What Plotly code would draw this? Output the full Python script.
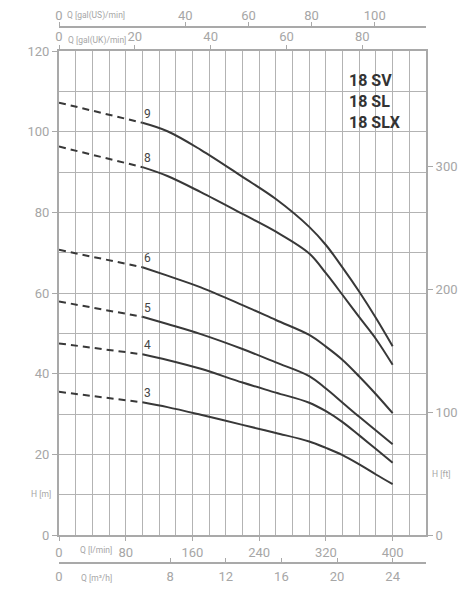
import plotly.graph_objects as go

# ---------------- data ----------------
stages = ["9", "8", "6", "5", "4", "3"]
q_dashed = [0, 100]
h_dashed = {
    "9": [107.2, 102.2],
    "8": [96.3, 91.2],
    "6": [70.7, 66.4],
    "5": [57.9, 54.1],
    "4": [47.5, 44.8],
    "3": [35.5, 32.9],
}
q_solid = [100, 130, 170, 220, 260, 300, 320, 340, 360, 380, 400]
h_solid = {
    "9": [102.2, 100.1, 95.5, 88.8, 83.3, 76.4, 71.9, 66.3, 60.3, 53.8, 46.8],
    "8": [91.2, 89.0, 85.0, 79.6, 75.2, 69.8, 64.9, 59.5, 54.0, 48.6, 42.2],
    "6": [66.4, 64.3, 61.4, 57.0, 53.3, 49.6, 46.7, 43.4, 39.3, 34.9, 30.2],
    "5": [54.1, 52.3, 49.8, 46.1, 42.8, 39.4, 36.3, 32.8, 29.3, 25.9, 22.5],
    "4": [44.8, 43.4, 41.2, 37.8, 35.3, 32.8, 30.7, 28.0, 24.7, 21.3, 17.9],
    "3": [32.9, 31.7, 29.8, 27.3, 25.3, 23.2, 21.6, 19.8, 17.5, 15.0, 12.6],
}
title_lines = ["18 SV", "18 SL", "18 SLX"]

q_lmin_ticks = [0, 80, 160, 240, 320, 400]
q_m3h_ticks = [0, 8, 12, 16, 20, 24]
q_us_ticks = [0, 40, 60, 80, 100]
q_uk_ticks = [0, 20, 40, 60, 80]
h_m_ticks = [0, 20, 40, 60, 80, 100, 120]
h_ft_ticks = [0, 100, 200, 300]

Q_MAX = 440.0
H_MAX = 120.0
US_GAL = 3.785411784
UK_GAL = 4.54609
FT = 3.28084

# ---------------- style ----------------
GRID = "#b3b3b3"
AXC = "#a9a9a9"
TXT = "#a6a6a6"
CURVE = "#383838"
FONT = "Roboto, Liberation Sans, sans-serif"
NARROW = "Liberation Sans Narrow, Roboto, sans-serif"

# page body has an 8px default margin: work in screen pixels, convert below
OFF = 8
W, H = 471 - 2 * OFF, 593 - 2 * OFF
PLOT_L, PLOT_R = 59, 425.7          # screen px of plot area
PAPER_T, PAPER_B = 20, 573          # screen px of paper area
ML = PLOT_L - OFF
MR = W - (PLOT_R - OFF)
MT = PAPER_T - OFF
MB = H - (PAPER_B - OFF)
PH = PAPER_B - PAPER_T
PW = PLOT_R - PLOT_L


def py(pix):
    return (PAPER_B - pix) / PH


def px(pix):
    return (pix - PLOT_L) / PW


fig = go.Figure()
for s in stages:
    fig.add_trace(go.Scatter(x=q_dashed, y=h_dashed[s], mode="lines",
                             line=dict(color=CURVE, width=2, dash="7px,5px"),
                             showlegend=False, hoverinfo="skip"))
    fig.add_trace(go.Scatter(x=q_solid, y=h_solid[s], mode="lines",
                             line=dict(color=CURVE, width=2, shape="spline", smoothing=1.0),
                             showlegend=False))

# invisible helper traces so the secondary axes get drawn
fig.add_trace(go.Scatter(x=q_m3h_ticks, y=[0] * len(q_m3h_ticks), xaxis="x2", yaxis="y",
                         mode="markers", marker=dict(opacity=0), hoverinfo="skip"))
fig.add_trace(go.Scatter(x=q_us_ticks, y=[0] * len(q_us_ticks), xaxis="x3", yaxis="y",
                         mode="markers", marker=dict(opacity=0), hoverinfo="skip"))
fig.add_trace(go.Scatter(x=q_uk_ticks, y=[0] * len(q_uk_ticks), xaxis="x4", yaxis="y",
                         mode="markers", marker=dict(opacity=0), hoverinfo="skip"))
fig.add_trace(go.Scatter(x=[0] * len(h_ft_ticks), y=h_ft_ticks, xaxis="x", yaxis="y2",
                         mode="markers", marker=dict(opacity=0), hoverinfo="skip"))

annotations = []
for s in stages:
    annotations.append(dict(x=q_solid[0], y=h_solid[s][0], xref="x", yref="y",
                            text=s, showarrow=False, xanchor="left", yanchor="bottom",
                            xshift=0, yshift=0,
                            font=dict(family=FONT, size=12, color="#444444")))

annotations.append(dict(x=px(347), y=py(101.7), xref="paper", yref="paper",
                        text="<br>".join("<b>%s</b>" % t for t in title_lines),
                        showarrow=False, xanchor="left", yanchor="middle", align="left",
                        font=dict(family=NARROW, size=16, color="#333333")))

small = dict(family=NARROW, size=8.5, color=TXT)
annotations += [
    dict(x=px(96), y=py(550), xref="paper", yref="paper", text="Q [l/min]",
         showarrow=False, xanchor="center", yanchor="middle", font=small),
    dict(x=px(96), y=py(578), xref="paper", yref="paper", text="Q [m³/h]",
         showarrow=False, xanchor="center", yanchor="middle", font=small),
    dict(x=px(96), y=py(15), xref="paper", yref="paper", text="Q [gal(US)/min]",
         showarrow=False, xanchor="center", yanchor="middle", font=small),
    dict(x=px(96.5), y=py(40), xref="paper", yref="paper", text="Q [gal(UK)/min]",
         showarrow=False, xanchor="center", yanchor="middle", font=small),
    dict(x=px(53), y=py(494), xref="paper", yref="paper", text="H [m]",
         showarrow=False, xanchor="right", yanchor="middle", font=small),
    dict(x=px(430), y=py(474), xref="paper", yref="paper", text="H [ft]",
         showarrow=False, xanchor="left", yanchor="middle", font=small),
]

tickfont = dict(family=FONT, size=13, color=TXT)
ydom = [py(535), py(51)]
common = dict(tickcolor=AXC, showline=True, linecolor=AXC, linewidth=2,
              zeroline=False, tickfont=tickfont, automargin=False)

fig.update_layout(
    width=W, height=H,
    margin=dict(l=ML, r=MR, t=MT, b=MB, pad=0, autoexpand=False),
    paper_bgcolor="white", plot_bgcolor="white",
    showlegend=False,
    annotations=annotations,
    xaxis=dict(range=[0, Q_MAX], tickvals=q_lmin_ticks, ticks="outside", ticklen=4,
               showgrid=True, gridcolor=GRID, gridwidth=1,
               minor=dict(dtick=20, tick0=0, showgrid=True, gridcolor=GRID, gridwidth=1),
               anchor="y", side="bottom", domain=[0, 1], **common),
    xaxis2=dict(range=[0, Q_MAX * 60 / 1000], tickvals=q_m3h_ticks, ticks="inside",
                ticklen=4, showgrid=False, ticklabelstandoff=1,
                overlaying="x", anchor="free", position=py(563), side="bottom", **common),
    xaxis3=dict(range=[0, Q_MAX / US_GAL], tickvals=q_us_ticks, ticks="outside",
                ticklen=4, showgrid=False, ticklabelstandoff=-3,
                overlaying="x", anchor="free", position=py(27), side="top", **common),
    xaxis4=dict(range=[0, Q_MAX / UK_GAL], tickvals=q_uk_ticks, ticks="outside",
                ticklen=4, showgrid=False, ticklabelstandoff=-1,
                overlaying="x", anchor="y", side="top", **common),
    yaxis=dict(range=[0, H_MAX], domain=ydom, tickvals=h_m_ticks, ticks="outside",
               ticklen=5, showgrid=True, gridcolor=GRID, gridwidth=1,
               minor=dict(dtick=10, tick0=0, showgrid=True, gridcolor=GRID, gridwidth=1),
               anchor="x", **common),
    yaxis2=dict(range=[0, H_MAX * FT], tickvals=h_ft_ticks, ticks="outside",
                ticklen=5, showgrid=False,
                overlaying="y", side="right", anchor="x", **common),
)

fig.write_html("out.html")
